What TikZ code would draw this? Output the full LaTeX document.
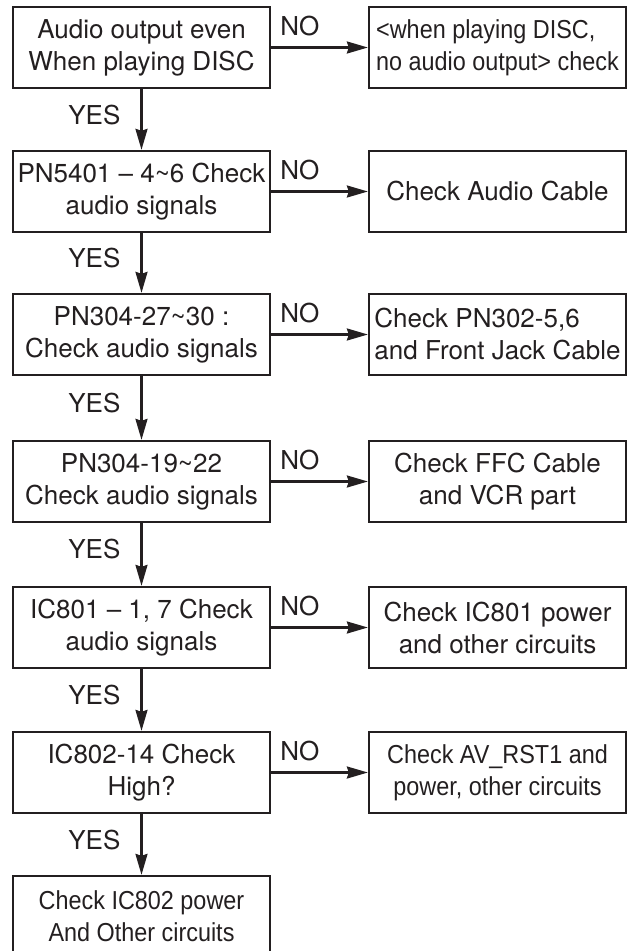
\documentclass[tikz,border=0pt]{standalone}
\usepackage{fontspec}
\setmainfont{TeX Gyre Heros}
\newfontfamily\narrowfont[FakeStretch=0.9]{Liberation Sans}
\usetikzlibrary{arrows.meta}
\definecolor{ink}{RGB}{35,31,32}
\tikzset{
  flowchart/.style={x=1pt,y=-1pt,line width=2.3pt,color=ink,font=\fontsize{26}{32}\selectfont},
  testbox/.style={draw,minimum width=257pt,minimum height=81pt,align=center,inner sep=2pt},
  narrowtext/.style={font=\narrowfont\fontsize{26}{32}\selectfont},
  flow/.style={-{Stealth[length=21pt,width=12pt,inset=2pt]}},
  yeslabel/.style={anchor=east,pos=0.42,xshift=-20pt,inner sep=0pt},
  nolabel/.style={pos=0,anchor=base west,xshift=8pt,yshift=12pt,inner sep=0pt}}

\begin{document}
\begin{tikzpicture}[flowchart]
    \useasboundingbox (0,0) rectangle (629,951);
    \clip (0,0) rectangle (629,951);
    % checks on the left
    \node[testbox] (q1) at (141.5,47.5)  {Audio output even\\When playing DISC};
    \node[testbox] (q2) at (141.5,191.5) {PN5401 -- 4\textasciitilde6 Check\\audio signals};
    \node[testbox] (q3) at (141.5,334.5) {PN304-27\textasciitilde30 :\\Check audio signals};
    \node[testbox] (q4) at (141.5,481.5) {PN304-19\textasciitilde22\\Check audio signals};
    \node[testbox] (q5) at (141.5,627.5) {IC801 -- 1, 7 Check\\audio signals};
    \node[testbox] (q6) at (141.5,772.5) {IC802-14 Check\\High?};
    \node[testbox,narrowtext] (q7) at (141.5,916.5) {Check IC802 power\\And Other circuits};
    % what to do on NO
    \node[testbox,align=left,narrowtext] (a1) at (497.5,47.5) {\textless when playing DISC,\\no audio output\textgreater{} check};
    \node[testbox] (a2) at (497.5,191.5) {Check Audio Cable};
    \node[testbox,align=left] (a3) at (497.5,334.5) {Check PN302-5,6\\and Front Jack Cable};
    \node[testbox] (a4) at (497.5,481.5) {Check FFC Cable\\and VCR part};
    \node[testbox] (a5) at (497.5,627.5) {Check IC801 power\\and other circuits};
    \node[testbox,narrowtext] (a6) at (497.5,772.5) {Check AV\_RST1 and\\power, other circuits};
    \foreach \i/\j in {1/2,2/3,3/4,4/5,5/6,6/7}
      \draw[flow] (q\i) -- node[yeslabel] {YES} (q\j);
    \foreach \i in {1,...,6}
      \draw[flow] (q\i) -- node[nolabel] {NO} (a\i);
\end{tikzpicture}
\end{document}
